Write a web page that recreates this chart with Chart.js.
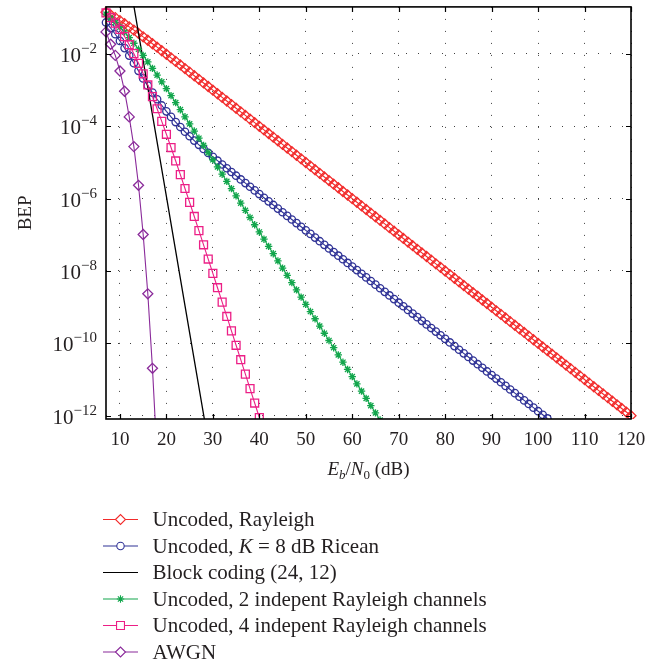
<!DOCTYPE html>
<html>
<head>
<meta charset="utf-8">
<script src="https://cdn.jsdelivr.net/npm/chart.js"></script>
<style>
  html, body { margin: 0; padding: 0; background: #fff; }
  #wrap { width: 669px; height: 665px; }
</style>
</head>
<body>
<div id="wrap"><canvas id="bep"></canvas></div>
<script>
// Eb/N0 axis (dB) and BEP axis ticks
const xTicks = [10, 20, 30, 40, 50, 60, 70, 80, 90, 100, 110, 120];
const yTicks = [1e-2, 1e-4, 1e-6, 1e-8, 1e-10, 1e-12];
const yTickExponents = ['\u22122', '\u22124', '\u22126', '\u22128', '\u221210', '\u221212'];

const seriesLabels = [
  'Uncoded, Rayleigh',
  'Uncoded, *K* = 8 dB Ricean',
  'Block coding (24, 12)',
  'Uncoded, 2 indepent Rayleigh channels',
  'Uncoded, 4 indepent Rayleigh channels',
  'AWGN'
];

// every curve is sampled at 1 dB steps starting at 7 dB (except block coding)
const firstEbN0 = 7;

const rayleighBEP = [
  1.43e-1, 1.20e-1, 1.01e-1, 8.33e-2, 6.85e-2, 5.60e-2, 4.56e-2, 3.69e-2, 2.97e-2, 2.39e-2, 1.92e-2, 1.54e-2, 1.23e-2, 9.80e-3,
  7.82e-3, 6.23e-3, 4.97e-3, 3.95e-3, 3.14e-3, 2.50e-3, 1.99e-3, 1.58e-3, 1.26e-3, 9.98e-4,
  7.93e-4, 6.30e-4, 5.01e-4, 3.98e-4, 3.16e-4, 2.51e-4, 2.00e-4, 1.58e-4, 1.26e-4, 1.00e-4,
  7.94e-5, 6.31e-5, 5.01e-5, 3.98e-5, 3.16e-5, 2.51e-5, 2.00e-5, 1.58e-5, 1.26e-5, 1.00e-5,
  7.94e-6, 6.31e-6, 5.01e-6, 3.98e-6, 3.16e-6, 2.51e-6, 2.00e-6, 1.58e-6, 1.26e-6, 1.00e-6,
  7.94e-7, 6.31e-7, 5.01e-7, 3.98e-7, 3.16e-7, 2.51e-7, 2.00e-7, 1.58e-7, 1.26e-7, 1.00e-7,
  7.94e-8, 6.31e-8, 5.01e-8, 3.98e-8, 3.16e-8, 2.51e-8, 2.00e-8, 1.58e-8, 1.26e-8, 1.00e-8,
  7.94e-9, 6.31e-9, 5.01e-9, 3.98e-9, 3.16e-9, 2.51e-9, 2.00e-9, 1.58e-9, 1.26e-9, 1.00e-9,
  7.94e-10, 6.31e-10, 5.01e-10, 3.98e-10, 3.16e-10, 2.51e-10, 2.00e-10, 1.58e-10, 1.26e-10, 1.00e-10,
  7.94e-11, 6.31e-11, 5.01e-11, 3.98e-11, 3.16e-11, 2.51e-11, 2.00e-11, 1.58e-11, 1.26e-11, 1.00e-11,
  7.94e-12, 6.31e-12, 5.01e-12, 3.98e-12, 3.16e-12, 2.51e-12, 2.00e-12, 1.58e-12, 1.26e-12, 1.00e-12
];

const riceanBEP = [
  7.43e-2, 5.21e-2, 3.51e-2, 2.29e-2, 1.45e-2, 9.01e-3, 5.54e-3, 3.41e-3, 2.11e-3, 1.33e-3, 8.54e-4, 5.60e-4, 3.77e-4, 2.59e-4,
  1.82e-4, 1.31e-4, 9.55e-5, 7.07e-5, 5.31e-5, 4.03e-5, 3.08e-5, 2.37e-5, 1.84e-5, 1.43e-5,
  1.12e-5, 8.80e-6, 6.92e-6, 5.46e-6, 4.31e-6, 3.40e-6, 2.69e-6, 2.13e-6, 1.69e-6, 1.34e-6,
  1.06e-6, 8.43e-7, 6.69e-7, 5.31e-7, 4.21e-7, 3.34e-7, 2.65e-7, 2.11e-7, 1.67e-7, 1.33e-7,
  1.06e-7, 8.39e-8, 6.66e-8, 5.29e-8, 4.20e-8, 3.34e-8, 2.65e-8, 2.11e-8, 1.67e-8, 1.33e-8,
  1.06e-8, 8.39e-9, 6.66e-9, 5.29e-9, 4.20e-9, 3.34e-9, 2.65e-9, 2.11e-9, 1.67e-9, 1.33e-9,
  1.06e-9, 8.39e-10, 6.66e-10, 5.29e-10, 4.20e-10, 3.34e-10, 2.65e-10, 2.11e-10, 1.67e-10, 1.33e-10,
  1.06e-10, 8.39e-11, 6.66e-11, 5.29e-11, 4.20e-11, 3.34e-11, 2.65e-11, 2.11e-11, 1.67e-11, 1.33e-11,
  1.06e-11, 8.39e-12, 6.66e-12, 5.29e-12, 4.20e-12, 3.34e-12, 2.65e-12, 2.11e-12, 1.67e-12, 1.33e-12,
  1.06e-12, 8.39e-13
];

const blockEbN0 = [13, 16, 20, 24, 28.2];
const blockBEP = [2.1e-1, 1.18e-3, 1.15e-6, 1.11e-9, 7.66e-13];

const twoChannelBEP = [
  1.26e-1, 9.83e-2, 7.47e-2, 5.54e-2, 4.01e-2, 2.84e-2, 1.98e-2, 1.35e-2, 9.10e-3, 6.06e-3, 4.00e-3, 2.61e-3, 1.70e-3, 1.10e-3,
  7.04e-4, 4.51e-4, 2.88e-4, 1.83e-4, 1.17e-4, 7.40e-5, 4.69e-5, 2.97e-5, 1.88e-5, 1.19e-5,
  7.52e-6, 4.75e-6, 3.00e-6, 1.89e-6, 1.20e-6, 7.55e-7, 4.77e-7, 3.01e-7, 1.90e-7, 1.20e-7,
  7.57e-8, 4.78e-8, 3.01e-8, 1.90e-8, 1.20e-8, 7.57e-9, 4.78e-9, 3.01e-9, 1.90e-9, 1.20e-9,
  7.57e-10, 4.78e-10, 3.01e-10, 1.90e-10, 1.20e-10, 7.57e-11, 4.78e-11, 3.01e-11, 1.90e-11, 1.20e-11,
  7.57e-12, 4.78e-12, 3.01e-12, 1.90e-12, 1.20e-12, 7.57e-13
];

const fourChannelBEP = [
  1.36e-1, 1.01e-1, 7.14e-2, 4.77e-2, 3.02e-2, 1.80e-2, 1.02e-2, 5.50e-3, 2.83e-3, 1.39e-3, 6.63e-4, 3.06e-4, 1.37e-4, 6.02e-5,
  2.59e-5, 1.10e-5, 4.61e-6, 1.91e-6, 7.87e-7, 3.22e-7, 1.31e-7, 5.30e-8, 2.14e-8, 8.60e-9,
  3.45e-9, 1.38e-9, 5.54e-10, 2.21e-10, 8.84e-11, 3.53e-11, 1.41e-11, 5.62e-12, 2.24e-12, 8.92e-13
];

const awgnBEP = [4.07e-2, 1.86e-2, 9.12e-3, 3.39e-3, 9.33e-4, 1.82e-4, 2.75e-5, 2.34e-6, 1.02e-7, 2.34e-9, 2.04e-11, 7.0e-14];

const colors = ['#f22b2b', '#2f3296', '#000000', '#12a64c', '#ec1f86', '#8a2a9a'];
const markers = ['rectRot', 'circle', false, 'star', 'rect', 'rectRot'];
const markerRadius = [5, 3.7, 0, 3.7, 5.6, 5];

const textColor = '#231f20';
const serif = '"Liberation Serif", "DejaVu Serif", serif';

function seq(values) {
  return values.map((v, i) => ({x: firstEbN0 + i, y: v}));
}

const curves = [
  seq(rayleighBEP),
  seq(riceanBEP),
  blockEbN0.map((x, i) => ({x: x, y: blockBEP[i]})),
  seq(twoChannelBEP),
  seq(fourChannelBEP),
  seq(awgnBEP)
];

const datasets = curves.map((pts, i) => ({
  label: seriesLabels[i].replace(/\*/g, ''),
  data: pts,
  borderColor: colors[i],
  borderWidth: i === 2 ? 1.3 : 1.1,
  backgroundColor: 'rgba(0,0,0,0)',
  pointStyle: markers[i] || 'circle',
  pointRadius: markerRadius[i],
  pointBorderColor: colors[i],
  pointBackgroundColor: 'rgba(0,0,0,0)',
  pointBorderWidth: 1.3,
  tension: 0,
  fill: false,
  clip: {left: 8, top: 8, right: 8, bottom: 0},
  order: 6 - i
}));

function richText(ctx, text, x, y, size) {
  text.split('*').forEach((part, k) => {
    ctx.font = (k % 2 ? 'italic ' : '') + size + 'px ' + serif;
    ctx.fillText(part, x, y);
    x += ctx.measureText(part).width;
  });
}

const decor = {
  id: 'decor',
  afterDraw(chart) {
    const {ctx, chartArea: a, scales: {x, y}} = chart;
    ctx.save();

    // inward tick marks
    ctx.strokeStyle = '#000';
    ctx.lineWidth = 1.2;
    ctx.beginPath();
    xTicks.forEach(v => {
      const px = Math.round(x.getPixelForValue(v)) + 0.5;
      ctx.moveTo(px, a.bottom); ctx.lineTo(px, a.bottom - 5);
      ctx.moveTo(px, a.top); ctx.lineTo(px, a.top + 5);
    });
    yTicks.forEach(v => {
      const py = Math.round(y.getPixelForValue(v)) + 0.5;
      ctx.moveTo(a.left, py); ctx.lineTo(a.left + 5, py);
      ctx.moveTo(a.right, py); ctx.lineTo(a.right - 5, py);
    });
    ctx.stroke();

    // axes box
    ctx.lineWidth = 1.6;
    ctx.strokeRect(a.left, a.top, a.right - a.left, a.bottom - a.top);

    // y tick labels 10^n
    ctx.fillStyle = textColor;
    ctx.textAlign = 'right';
    ctx.textBaseline = 'alphabetic';
    yTicks.forEach((v, i) => {
      const py = y.getPixelForValue(v);
      ctx.font = '15px ' + serif;
      const w = ctx.measureText(yTickExponents[i]).width;
      ctx.fillText(yTickExponents[i], 97, py - 1);
      ctx.font = '21px ' + serif;
      ctx.fillText('10', 97 - w, py + 8);
    });

    // x axis title: Eb/N0 (dB)
    const parts = [
      ['E', 'italic ', 19, 0], ['b', 'italic ', 13, 4], ['/', '', 19, 0],
      ['N', 'italic ', 19, 0], ['0', '', 13, 4], [' (dB)', '', 19, 0]
    ];
    ctx.textAlign = 'left';
    let total = 0;
    parts.forEach(p => { ctx.font = p[1] + p[2] + 'px ' + serif; total += ctx.measureText(p[0]).width; });
    let tx = (a.left + a.right) / 2 - total / 2;
    parts.forEach(p => {
      ctx.font = p[1] + p[2] + 'px ' + serif;
      ctx.fillText(p[0], tx, 475 + p[3]);
      tx += ctx.measureText(p[0]).width;
    });

    // legend
    ctx.textBaseline = 'middle';
    seriesLabels.forEach((label, i) => {
      const ly = 519.5 + i * 26.5;
      ctx.strokeStyle = colors[i];
      ctx.lineWidth = 1.1;
      ctx.beginPath(); ctx.moveTo(103, ly); ctx.lineTo(138, ly); ctx.stroke();
      if (markers[i]) {
        ctx.fillStyle = '#fff';
        Chart.helpers.drawPoint(ctx, {pointStyle: markers[i], radius: markerRadius[i], borderWidth: 1.2, rotation: 0}, 120.5, ly);
      }
      ctx.fillStyle = textColor;
      richText(ctx, label, 152.5, ly + 1, 21);
    });

    ctx.restore();
  }
};

new Chart(document.getElementById('bep'), {
  type: 'line',
  data: {datasets: datasets},
  options: {
    responsive: true,
    maintainAspectRatio: false,
    devicePixelRatio: 1,
    animation: false,
    events: [],
    layout: {padding: {top: 4, right: 38, left: 0, bottom: 0}},
    plugins: {legend: {display: false}, tooltip: {enabled: false}},
    scales: {
      x: {
        type: 'linear',
        min: 7,
        max: 120,
        afterBuildTicks: axis => { axis.ticks = xTicks.map(v => ({value: v})); },
        afterFit: axis => { axis.height = 246; },
        grid: {color: 'rgba(0,0,0,0.75)', lineWidth: 1, drawTicks: false},
        border: {display: false, dash: [1, 11]},
        ticks: {color: textColor, font: {family: serif, size: 19}, padding: 10, maxRotation: 0, autoSkip: false}
      },
      y: {
        type: 'logarithmic',
        min: 8.1e-13,
        max: 0.2,
        afterBuildTicks: axis => { axis.ticks = yTicks.map(v => ({value: v})); },
        afterFit: axis => { axis.width = 106; },
        grid: {color: 'rgba(0,0,0,0.75)', lineWidth: 1, drawTicks: false},
        border: {display: false, dash: [1, 11]},
        ticks: {display: false},
        title: {display: true, text: 'BEP', color: textColor, font: {family: serif, size: 19}, padding: {top: 15, bottom: 0}}
      }
    }
  },
  plugins: [decor]
});
</script>
</body>
</html>
